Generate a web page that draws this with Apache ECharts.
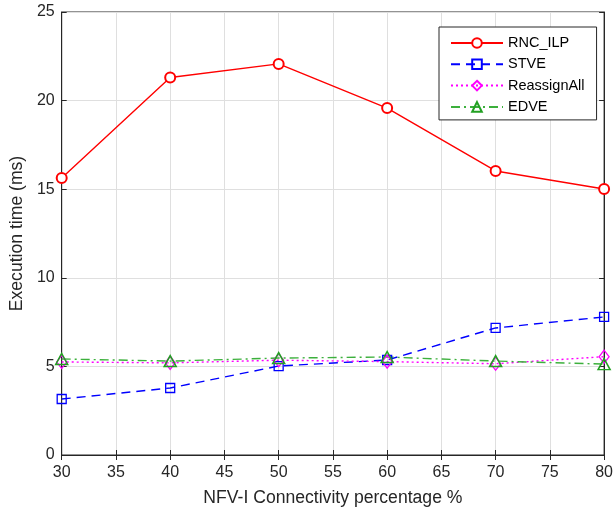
<!DOCTYPE html>
<html>
<head>
<meta charset="utf-8">
<script src="https://cdn.jsdelivr.net/npm/echarts@6/dist/echarts.min.js"></script>
<style>
  html, body { margin: 0; padding: 0; background: #fff; }
  #main { width: 616px; height: 512px; }
</style>
</head>
<body>
<div id="main"></div>
<script>
  var xValues = [30, 40, 50, 60, 70, 80];
  var rncIlp = [15.63, 21.3, 22.07, 19.58, 16.03, 15.01];
  var stve = [3.16, 3.78, 5.02, 5.36, 7.17, 7.79];
  var reassignAll = [5.25, 5.2, 5.35, 5.27, 5.15, 5.55];
  var edve = [5.42, 5.3, 5.47, 5.53, 5.3, 5.13];

  var axisColor = '#262626';
  var font = 'Liberation Sans, Arial, sans-serif';

  function pairs(vals) {
    var out = [];
    for (var i = 0; i < xValues.length; i++) out.push([xValues[i], vals[i]]);
    return out;
  }

  var myChart = echarts.init(document.getElementById('main'));
  var option = {
    animation: false,
    backgroundColor: '#fff',
    grid: {
      left: 60, right: 7, top: 12, bottom: 57,
      show: true, borderColor: axisColor, borderWidth: 1
    },
    legend: {
      orient: 'vertical',
      left: 439, top: 27,
      padding: [8.5, 12, 5.5, 11],
      itemGap: 6.3,
      itemWidth: 52, itemHeight: 12,
      backgroundColor: '#fff',
      borderColor: axisColor, borderWidth: 1,
      textStyle: { fontFamily: font, fontSize: 14.5, color: '#000' },
      data: ['RNC_ILP', 'STVE', 'ReassignAll', 'EDVE']
    },
    xAxis: [{
      type: 'value', min: 30, max: 80, interval: 5,
      name: 'NFV-I Connectivity percentage %',
      nameLocation: 'middle', nameGap: 34,
      nameTextStyle: { fontFamily: font, fontSize: 17.6, color: axisColor },
      axisLine: { show: true, lineStyle: { color: axisColor } },
      axisTick: { show: true, inside: true, length: 5, lineStyle: { color: axisColor } },
      axisLabel: { fontFamily: font, fontSize: 16, color: axisColor, margin: 10 },
      splitLine: { show: true, lineStyle: { color: '#dfdfdf' } }
    }, {
      type: 'value', min: 30, max: 80, interval: 5, position: 'top',
      axisLine: { show: true, lineStyle: { color: axisColor } },
      axisTick: { show: true, inside: true, length: 5, lineStyle: { color: axisColor } },
      axisLabel: { show: false },
      splitLine: { show: false }
    }],
    yAxis: [{
      type: 'value', min: 0, max: 25, interval: 5,
      name: 'Execution time (ms)',
      nameLocation: 'middle', nameGap: 33,
      nameTextStyle: { fontFamily: font, fontSize: 17.6, color: axisColor },
      axisLine: { show: true, lineStyle: { color: axisColor } },
      axisTick: { show: true, inside: true, length: 5, lineStyle: { color: axisColor } },
      axisLabel: { fontFamily: font, fontSize: 16, color: axisColor, margin: 7 },
      splitLine: { show: true, lineStyle: { color: '#dfdfdf' } }
    }, {
      type: 'value', min: 0, max: 25, interval: 5, position: 'right',
      axisLine: { show: true, lineStyle: { color: axisColor } },
      axisTick: { show: true, inside: true, length: 5, lineStyle: { color: axisColor } },
      axisLabel: { show: false },
      splitLine: { show: false }
    }],
    series: [{
      name: 'RNC_ILP', type: 'line', data: pairs(rncIlp),
      symbol: 'emptyCircle', symbolSize: 10,
      itemStyle: { color: '#ff0000', borderWidth: 1.3 },
      lineStyle: { color: '#ff0000', width: 1.4 }
    }, {
      name: 'STVE', type: 'line', data: pairs(stve),
      symbol: 'rect', symbolSize: 9,
      itemStyle: { color: 'rgba(0,0,0,0)', borderColor: '#0000ff', borderWidth: 1.3 },
      lineStyle: { color: '#0000ff', width: 1.4, type: [9, 6] }
    }, {
      name: 'ReassignAll', type: 'line', data: pairs(reassignAll),
      symbol: 'diamond', symbolSize: [10, 13],
      itemStyle: { color: 'rgba(0,0,0,0)', borderColor: '#ff00ff', borderWidth: 1.3 },
      lineStyle: { color: '#ff00ff', width: 1.4, type: [2, 3] }
    }, {
      name: 'EDVE', type: 'line', data: pairs(edve),
      symbol: 'triangle', symbolSize: [12, 11],
      itemStyle: { color: 'rgba(0,0,0,0)', borderColor: '#22a022', borderWidth: 1.5 },
      lineStyle: { color: '#3cb03c', width: 1.4, type: [9, 4, 2, 4] }
    }]
  };
  myChart.setOption(option);
</script>
</body>
</html>
